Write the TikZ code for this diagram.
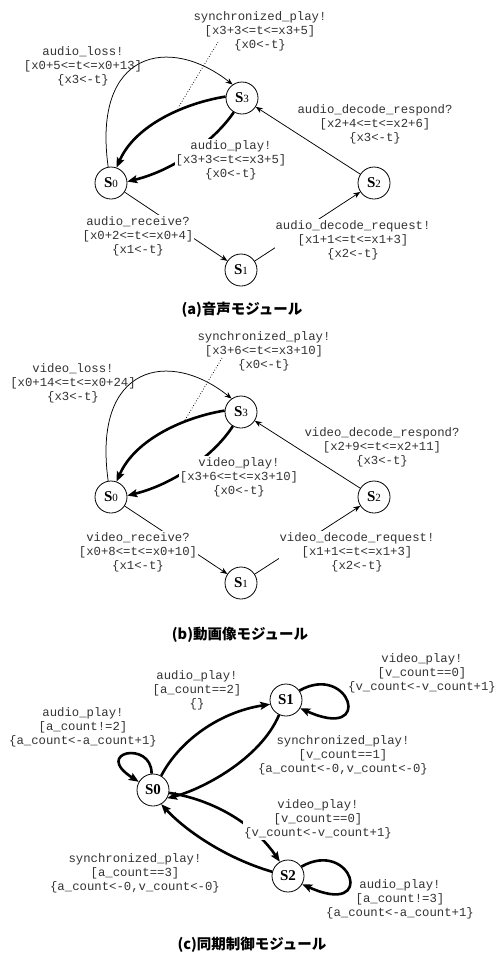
\documentclass[tikz,border=0pt]{standalone}
\usepackage{fontspec}
\setmainfont{Liberation Serif}
\newfontfamily\monofnt{Liberation Mono}
\newfontfamily\cjkfnt{Noto Sans CJK JP}
\usetikzlibrary{arrows.meta}
\tikzset{
  stateab/.style={circle, draw, line width=0.8pt, minimum size=32pt, inner sep=0pt, fill=white,
    font=\fontsize{15}{15}\selectfont},
  lbl/.style={font=\monofnt\fontsize{12.3}{14}\selectfont, align=center, inner sep=1pt, text=black!80},
  lblw/.style={lbl, fill=white},
  thinedge/.style={line width=0.75pt, -{Stealth[length=7pt,width=5.5pt]}},
  thickedge/.style={line width=2.6pt, -{Stealth[length=10pt,width=8pt,inset=2pt]}},
  ptr/.style={line width=0.75pt, dotted},
  figcaption/.style={font=\cjkfnt\bfseries\fontsize{14.5}{16}\selectfont, inner sep=0pt}
}
\newcommand{\stab}[1]{\textbf{S}{\fontsize{11}{11}\selectfont #1}}
\newcommand{\stc}[1]{\textbf{S#1}}
\begin{document}
\begin{tikzpicture}[x=1pt,y=-1pt]
\useasboundingbox (0,0) rectangle (501,956);
\fill[white] (0,0) rectangle (501,956);

% ================= (a) =================
\node[stateab] (aS3) at (242,98) {\stab{3}};
\node[stateab] (aS0) at (111,183) {\stab{0}};
\node[stateab] (aS2) at (374,183) {\stab{2}};
\node[stateab] (aS1) at (241,270) {\stab{1}};

\draw[thinedge] (aS0.100) .. controls (92,50) and (170,35) .. (aS3.125);
\draw[thickedge] (aS3.175) .. controls (185,103) and (135,125) .. (aS0.70);
\draw[thickedge] (aS3.240) .. controls (215,140) and (175,170) .. (aS0.5);
\draw[thinedge] (aS2) -- (aS3);
\draw[thinedge] (aS0) -- (aS1);
\draw[thinedge] (aS1) -- (aS2);
\coordinate (aP1) at (218,42);
\coordinate (aP2) at (178,108);
\draw[ptr] (aP1) -- (aP2);

\node[lbl] (aLsync) at (260,31) {synchronized\_play!\\{}[x3+3<=t<=x3+5]\\\{x0<-t\}};
\node[lbl] (aLloss) at (83,66) {audio\_loss!\\{}[x0+5<=t<=x0+13]\\\{x3<-t\}};
\node[lbl] (aLresp) at (375,124) {audio\_decode\_respond?\\{}[x2+4<=t<=x2+6]\\\{x3<-t\}};
\node[lblw] (aLplay) at (231,160) {audio\_play!\\{}[x3+3<=t<=x3+5]\\\{x0<-t\}};
\node[lblw] (aLrecv) at (138,236) {audio\_receive?\\{}[x0+2<=t<=x0+4]\\\{x1<-t\}};
\node[lblw] (aLreq) at (353,240) {audio\_decode\_request!\\{}[x1+1<=t<=x1+3]\\\{x2<-t\}};

\node[figcaption] (capa) at (242,310) {(a)音声モジュール};

% ================= (b) =================
\node[stateab] (bS3) at (241,412) {\stab{3}};
\node[stateab] (bS0) at (111,497) {\stab{0}};
\node[stateab] (bS2) at (374,497) {\stab{2}};
\node[stateab] (bS1) at (241,583) {\stab{1}};

\draw[thinedge] (bS0.100) .. controls (92,364) and (170,349) .. (bS3.125);
\draw[thickedge] (bS3.175) .. controls (185,417) and (135,439) .. (bS0.70);
\draw[thickedge] (bS3.240) .. controls (215,454) and (175,484) .. (bS0.5);
\draw[thinedge] (bS2) -- (bS3);
\draw[thinedge] (bS0) -- (bS1);
\draw[thinedge] (bS1) -- (bS2);
\coordinate (bP1) at (222,358);
\coordinate (bP2) at (185,420);
\draw[ptr] (bP1) -- (bP2);

\node[lbl] (bLsync) at (264,351) {synchronized\_play!\\{}[x3+6<=t<=x3+10]\\\{x0<-t\}};
\node[lbl] (bLloss) at (73,383) {video\_loss!\\{}[x0+14<=t<=x0+24]\\\{x3<-t\}};
\node[lbl] (bLresp) at (382,447) {video\_decode\_respond?\\{}[x2+9<=t<=x2+11]\\\{x3<-t\}};
\node[lblw] (bLplay) at (239,477) {video\_play!\\{}[x3+6<=t<=x3+10]\\\{x0<-t\}};
\node[lblw] (bLrecv) at (138,552) {video\_receive?\\{}[x0+8<=t<=x0+10]\\\{x1<-t\}};
\node[lblw] (bLreq) at (357,552) {video\_decode\_request!\\{}[x1+1<=t<=x1+3]\\\{x2<-t\}};

\node[figcaption] (capb) at (240,635) {(b)動画像モジュール};

% ================= (c) =================
\node[stateab] (cS1) at (286,700) {\stc{1}};
\node[stateab] (cS0) at (153,790) {\stc{0}};
\node[stateab] (cS2) at (288,876) {\stc{2}};

\draw[thickedge] (cS0.95) .. controls (152,740) and (92,752) .. (cS0.150);
\draw[thickedge] (cS0.60) .. controls (180,740) and (220,712) .. (cS1.195);
\draw[thickedge] (cS1.245) .. controls (260,760) and (200,790) .. (cS0.-30);
\draw[thickedge] (cS1.35) .. controls (350,662) and (375,742) .. (cS1.-30);
\draw[thickedge] (cS0.-10) .. controls (215,800) and (255,825) .. (cS2.120);
\draw[thickedge] (cS2.165) .. controls (225,858) and (185,830) .. (cS0.-60);
\draw[thickedge] (cS2.35) .. controls (352,838) and (377,918) .. (cS2.-30);

\node[lbl] (cLv1) at (422,673) {video\_play!\\{}[v\_count==0]\\\{v\_count<-v\_count+1\}};
\node[lbl] (cLa01) at (197,690) {audio\_play!\\{}[a\_count==2]\\\{\}};
\node[lbl] (cLa00) at (83,727) {audio\_play!\\{}[a\_count!=2]\\\{a\_count<-a\_count+1\}};
\node[lbl] (cLs10) at (343,755) {synchronized\_play!\\{}[v\_count==1]\\\{a\_count<-0,v\_count<-0\}};
\node[lblw] (cLv02) at (318,819) {video\_play!\\{}[v\_count==0]\\\{v\_count<-v\_count+1\}};
\node[lbl] (cLs20) at (135,873) {synchronized\_play!\\{}[a\_count==3]\\\{a\_count<-0,v\_count<-0\}};
\node[lbl] (cLa22) at (400,899) {audio\_play!\\{}[a\_count!=3]\\\{a\_count<-a\_count+1\}};

\node[figcaption] (capc) at (252,945) {(c)同期制御モジュール};
\end{tikzpicture}
\end{document}
